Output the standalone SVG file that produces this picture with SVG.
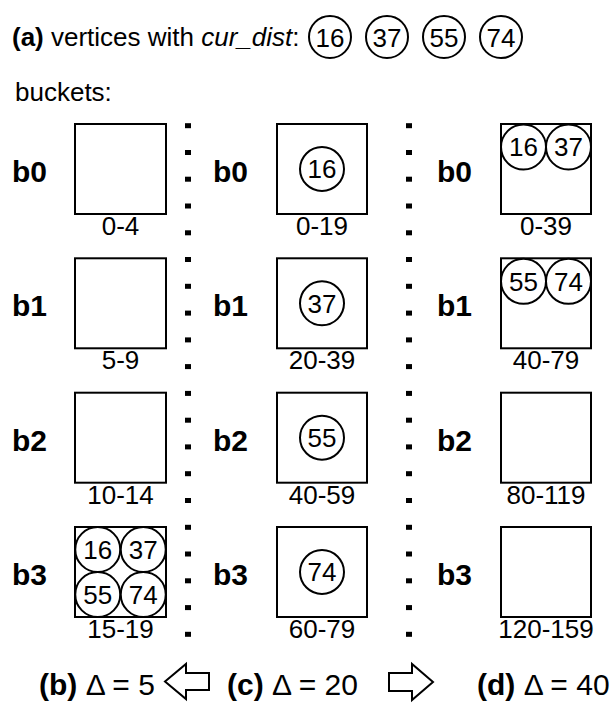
<svg xmlns="http://www.w3.org/2000/svg" width="613" height="703" viewBox="0 0 613 703">
<style>
text{font-family:"Liberation Sans",Arial,Helvetica,sans-serif;fill:#000}
.t{font-size:26px}
.cap{font-size:30px}
.bl{font-size:30px;font-weight:bold}
.lab{font-size:26px;text-anchor:middle}
.num{font-size:26px;text-anchor:middle}
.box{fill:none;stroke:#000;stroke-width:2}
.c{fill:#fff;stroke:#000;stroke-width:2}
.dot{fill:#000}
.arr{fill:#fff;stroke:#000;stroke-width:2;stroke-linejoin:miter}
</style>
<defs>
<rect id="d" class="dot" x="-3" y="-2.5" width="6" height="5"/>
</defs>
<g id="header">
<text class="t" x="12" y="46"><tspan font-weight="bold">(a)</tspan> vertices with <tspan font-style="italic">cur_dist</tspan>:</text>
<g id="h16"><circle class="c" cx="330" cy="37" r="21"/><text class="num" x="330" y="46.5">16</text></g>
<g id="h37"><circle class="c" cx="387" cy="37" r="21"/><text class="num" x="387" y="46.5">37</text></g>
<g id="h55"><circle class="c" cx="444" cy="37" r="21"/><text class="num" x="444" y="46.5">55</text></g>
<g id="h74"><circle class="c" cx="501" cy="37" r="21"/><text class="num" x="501" y="46.5">74</text></g>
<text class="t" x="15" y="101">buckets:</text>
</g>
<g id="separators">
<g id="sep1">
<use href="#d" x="188" y="125.7"/><use href="#d" x="188" y="152.5"/><use href="#d" x="188" y="179.2"/><use href="#d" x="188" y="206"/><use href="#d" x="188" y="232.8"/><use href="#d" x="188" y="259.5"/><use href="#d" x="188" y="286.3"/><use href="#d" x="188" y="313.1"/><use href="#d" x="188" y="339.9"/><use href="#d" x="188" y="366.6"/><use href="#d" x="188" y="393.4"/><use href="#d" x="188" y="420.2"/><use href="#d" x="188" y="446.9"/><use href="#d" x="188" y="473.7"/><use href="#d" x="188" y="500.5"/><use href="#d" x="188" y="527.3"/><use href="#d" x="188" y="554"/><use href="#d" x="188" y="580.8"/><use href="#d" x="188" y="607.6"/><use href="#d" x="188" y="634.3"/>
</g>
<g id="sep2">
<use href="#d" x="409" y="125.7"/><use href="#d" x="409" y="152.5"/><use href="#d" x="409" y="179.2"/><use href="#d" x="409" y="206"/><use href="#d" x="409" y="232.8"/><use href="#d" x="409" y="259.5"/><use href="#d" x="409" y="286.3"/><use href="#d" x="409" y="313.1"/><use href="#d" x="409" y="339.9"/><use href="#d" x="409" y="366.6"/><use href="#d" x="409" y="393.4"/><use href="#d" x="409" y="420.2"/><use href="#d" x="409" y="446.9"/><use href="#d" x="409" y="473.7"/><use href="#d" x="409" y="500.5"/><use href="#d" x="409" y="527.3"/><use href="#d" x="409" y="554"/><use href="#d" x="409" y="580.8"/><use href="#d" x="409" y="607.6"/><use href="#d" x="409" y="634.3"/>
</g>
</g>
<!-- column b: delta 5 -->
<g id="colB">
<g id="b-b0"><text class="bl" x="12" y="182">b0</text><rect class="box" x="75" y="124" width="91" height="90"/><text class="lab" x="120.5" y="235">0-4</text></g>
<g id="b-b1"><text class="bl" x="12" y="316">b1</text><rect class="box" x="75" y="258.3" width="91" height="90"/><text class="lab" x="120.5" y="369.3">5-9</text></g>
<g id="b-b2"><text class="bl" x="12" y="450.7">b2</text><rect class="box" x="75" y="392.7" width="91" height="90"/><text class="lab" x="120.5" y="503.7">10-14</text></g>
<g id="b-b3"><text class="bl" x="12" y="585">b3</text><rect class="box" x="75" y="527" width="91" height="90"/>
<circle class="c" cx="97.75" cy="549.5" r="22.5"/><text class="num" x="97.75" y="558.8">16</text>
<circle class="c" cx="143.25" cy="549.5" r="22.5"/><text class="num" x="143.25" y="558.8">37</text>
<circle class="c" cx="97.75" cy="594.5" r="22.5"/><text class="num" x="97.75" y="603.8">55</text>
<circle class="c" cx="143.25" cy="594.5" r="22.5"/><text class="num" x="143.25" y="603.8">74</text>
<text class="lab" x="120.5" y="638">15-19</text></g>
</g>
<!-- column c: delta 20 -->
<g id="colC">
<g id="c-b0"><text class="bl" x="213" y="182">b0</text><rect class="box" x="277" y="124" width="90" height="90"/>
<circle class="c" cx="322" cy="169" r="22"/><text class="num" x="322" y="178.3">16</text>
<text class="lab" x="322" y="235">0-19</text></g>
<g id="c-b1"><text class="bl" x="213" y="316">b1</text><rect class="box" x="277" y="258.3" width="90" height="90"/>
<circle class="c" cx="322" cy="303.3" r="22"/><text class="num" x="322" y="312.6">37</text>
<text class="lab" x="322" y="369.3">20-39</text></g>
<g id="c-b2"><text class="bl" x="213" y="450.7">b2</text><rect class="box" x="277" y="392.7" width="90" height="90"/>
<circle class="c" cx="322" cy="437.7" r="22"/><text class="num" x="322" y="447">55</text>
<text class="lab" x="322" y="503.7">40-59</text></g>
<g id="c-b3"><text class="bl" x="213" y="585">b3</text><rect class="box" x="277" y="527" width="90" height="90"/>
<circle class="c" cx="322" cy="572" r="22"/><text class="num" x="322" y="581.3">74</text>
<text class="lab" x="322" y="638">60-79</text></g>
</g>
<!-- column d: delta 40 -->
<g id="colD">
<g id="d-b0"><text class="bl" x="437" y="182">b0</text><rect class="box" x="501" y="124" width="90" height="90"/>
<circle class="c" cx="523.5" cy="147" r="22.5"/><text class="num" x="523.5" y="156.3">16</text>
<circle class="c" cx="568.5" cy="147" r="22.5"/><text class="num" x="568.5" y="156.3">37</text>
<text class="lab" x="546" y="235">0-39</text></g>
<g id="d-b1"><text class="bl" x="437" y="316">b1</text><rect class="box" x="501" y="258.3" width="90" height="90"/>
<circle class="c" cx="523.5" cy="281.3" r="22.5"/><text class="num" x="523.5" y="290.6">55</text>
<circle class="c" cx="568.5" cy="281.3" r="22.5"/><text class="num" x="568.5" y="290.6">74</text>
<text class="lab" x="546" y="369.3">40-79</text></g>
<g id="d-b2"><text class="bl" x="437" y="450.7">b2</text><rect class="box" x="501" y="392.7" width="90" height="90"/>
<text class="lab" x="546" y="503.7">80-119</text></g>
<g id="d-b3"><text class="bl" x="437" y="585">b3</text><rect class="box" x="501" y="527" width="90" height="90"/>
<text class="lab" x="546" y="638">120-159</text></g>
</g>
<g id="captions">
<text class="cap" x="39" y="695"><tspan font-weight="bold">(b)</tspan> Δ = 5</text>
<text class="cap" x="227" y="695"><tspan font-weight="bold">(c)</tspan> Δ = 20</text>
<text class="cap" x="477" y="695"><tspan font-weight="bold">(d)</tspan> Δ = 40</text>
</g>
<g id="connectors">
<path class="arr" d="M165,681.5 L186,664 L186,673 L209,673 L209,690 L186,690 L186,699 Z"/>
<path class="arr" d="M433,682 L412,664 L412,673 L389,673 L389,691 L412,691 L412,700 Z"/>
</g>
</svg>
